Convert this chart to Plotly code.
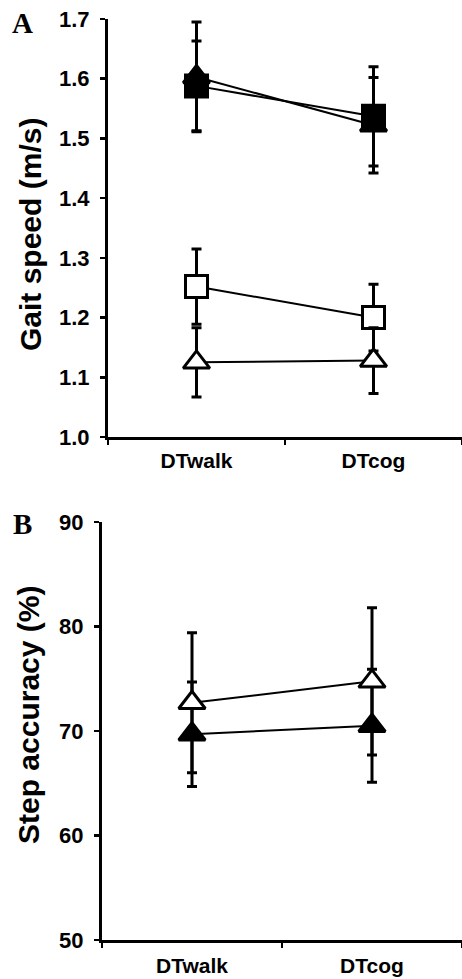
import plotly.graph_objects as go

W, H = 462, 979

categories = ["DTwalk", "DTcog"]
x_pos = [0, 1]

# Panel A: gait speed (m/s)
gait_sq_filled = [1.588, 1.537]
gait_sq_filled_sd = [0.075, 0.083]
gait_tri_filled = [1.603, 1.522]
gait_tri_filled_sd = [0.092, 0.080]
gait_sq_open = [1.252, 1.200]
gait_sq_open_sd = [0.063, 0.056]
gait_tri_open = [1.125, 1.128]
gait_tri_open_sd = [0.058, 0.055]

# Panel B: step accuracy (%)
acc_tri_filled = [69.7, 70.5]
acc_tri_filled_sd = [5.0, 5.4]
acc_tri_open = [72.7, 74.75]
acc_tri_open_sd = [6.7, 7.05]

gait_ticks = [1.0, 1.1, 1.2, 1.3, 1.4, 1.5, 1.6, 1.7]
acc_ticks = [50, 60, 70, 80, 90]

FONT = "Arial, 'Liberation Sans', sans-serif"
SERIF = "'Times New Roman', 'Liberation Serif', serif"


def trace(y, sd, symbol, filled, xa, ya, size):
    return go.Scatter(
        x=x_pos, y=y, mode="lines+markers", xaxis=xa, yaxis=ya,
        line=dict(color="black", width=2),
        marker=dict(symbol=symbol, size=size,
                    color="black" if filled else "white",
                    line=dict(color="black", width=3)),
        error_y=dict(type="data", array=sd, visible=True, color="black",
                     thickness=3, width=5),
        showlegend=False, hoverinfo="skip", cliponaxis=False,
    )


SQ, TRI = 22, 23
fig = go.Figure()
fig.add_trace(trace(gait_tri_filled, gait_tri_filled_sd, "triangle-up", True, "x", "y", TRI))
fig.add_trace(trace(gait_sq_filled, gait_sq_filled_sd, "square", True, "x", "y", SQ))
fig.add_trace(trace(gait_sq_open, gait_sq_open_sd, "square", False, "x", "y", SQ))
fig.add_trace(trace(gait_tri_open, gait_tri_open_sd, "triangle-up", False, "x", "y", TRI))
fig.add_trace(trace(acc_tri_filled, acc_tri_filled_sd, "triangle-up", True, "x2", "y2", TRI))
fig.add_trace(trace(acc_tri_open, acc_tri_open_sd, "triangle-up", False, "x2", "y2", TRI))


def px_x(p):
    return p / W


def px_y(p):
    return 1 - p / H


xaxis_common = dict(
    range=[-0.5, 1.5], tickvals=x_pos, ticktext=["<b>%s</b>" % c for c in categories],
    ticks="", showline=True, linecolor="black", linewidth=3, showgrid=False, zeroline=False,
    tickfont=dict(family=FONT, size=21, color="black"),
    automargin=False,
    minor=dict(tickvals=[-0.5, 0.5, 1.5], ticks="outside", ticklen=5,
               tickwidth=2, tickcolor="black", showgrid=False),
)
yaxis_common = dict(
    ticks="outside", ticklen=5, tickwidth=2.5, tickcolor="black",
    showline=True, linecolor="black", linewidth=3, showgrid=False, zeroline=False,
    tickfont=dict(family=FONT, size=22, color="black"),
    ticklabelstandoff=6, automargin=False,
)

fig.update_layout(
    width=W, height=H,
    margin=dict(l=0, r=0, t=0, b=0, autoexpand=False),
    paper_bgcolor="white", plot_bgcolor="white",
    font=dict(family=FONT, color="black"),
    xaxis=dict(domain=[px_x(108), 1], anchor="y", ticklabelstandoff=3, **xaxis_common),
    yaxis=dict(domain=[px_y(437), px_y(19)], anchor="x", range=[1.0, 1.7],
               tickvals=gait_ticks, ticktext=["<b>%.1f</b>" % v for v in gait_ticks],
               **yaxis_common),
    xaxis2=dict(domain=[px_x(102), 1], anchor="y2", ticklabelstandoff=5, **xaxis_common),
    yaxis2=dict(domain=[px_y(940), px_y(522)], anchor="x2", range=[50, 90],
                tickvals=acc_ticks, ticktext=["<b>%d</b>" % v for v in acc_ticks],
                **yaxis_common),
    annotations=[
        dict(text="<b>Gait speed (m/s)</b>", textangle=-90, xref="paper", yref="paper",
             x=px_x(30), y=px_y(235), xanchor="center", yanchor="middle", showarrow=False,
             font=dict(family=FONT, size=30, color="black")),
        dict(text="<b>Step accuracy (%)</b>", textangle=-90, xref="paper", yref="paper",
             x=px_x(28), y=px_y(715), xanchor="center", yanchor="middle", showarrow=False,
             font=dict(family=FONT, size=30, color="black")),
        dict(text="<b>A</b>", xref="paper", yref="paper", x=px_x(22), y=px_y(23),
             xanchor="center", yanchor="middle", showarrow=False,
             font=dict(family=SERIF, size=29, color="black")),
        dict(text="<b>B</b>", xref="paper", yref="paper", x=px_x(22), y=px_y(524),
             xanchor="center", yanchor="middle", showarrow=False,
             font=dict(family=SERIF, size=29, color="black")),
    ],
)

fig.write_html(
    "out.html",
    config={"displayModeBar": False, "staticPlot": True},
    post_script="document.body.style.margin='0';document.body.style.overflow='hidden';",
)
